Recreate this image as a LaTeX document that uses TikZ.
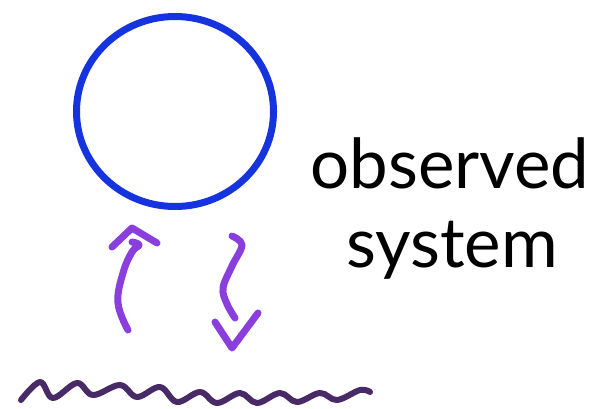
\documentclass[tikz,border=0pt]{standalone}
\usepackage{fontspec}
\setmainfont{Lato}
\definecolor{circblue}{RGB}{22,52,222}
\definecolor{arrpurple}{RGB}{138,62,222}
\definecolor{wavepurple}{RGB}{72,42,102}
\tikzset{
  marker/.style={line width=#1, line cap=round, line join=round},
  label/.style={font=\fontsize{69}{69}\selectfont, anchor=base, inner sep=0pt}
}
\begin{document}
\begin{tikzpicture}[x=1pt,y=-1pt]
\useasboundingbox (0,0) rectangle (601,408);
% observed system circle
\draw[marker=7pt, circblue] (175,111.5) ellipse [x radius=98.5, y radius=95];
% text
\node[label] (obs) at (450,188) {observed};
\node[label] (sys) at (452,267) {system};
% up arrow
\draw[marker=7pt, arrpurple] plot[smooth, tension=0.7] coordinates {
  (128,330) (118,303) (123,273) (132,252) (139,245) (132,242)};
\draw[marker=7pt, arrpurple] (112,247) -- (132,228) -- (157,243);
% down arrow
\draw[marker=7pt, arrpurple] plot[smooth, tension=0.6] coordinates {
  (232,236) (242,245) (232,266) (223,288) (227,304) (235,318)};
\draw[marker=7pt, arrpurple] (215,322) -- (232,348) -- (258,313);
% bottom wave
\draw[marker=6pt, wavepurple] plot[smooth, tension=0.6] coordinates {
  (21,400) (40,382) (53,398) (77,383) (93,395) (120,385) (137,397) (160,387)
  (177,402) (200,392) (217,403) (240,393) (257,403) (280,393) (297,402)
  (320,393) (337,400) (360,390) (370,392)};
\end{tikzpicture}
\end{document}
